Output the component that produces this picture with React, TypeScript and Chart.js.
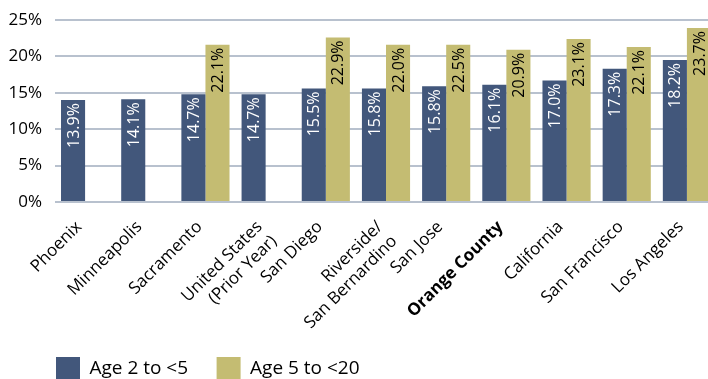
import React, { useEffect, useRef } from "react";
import { Chart, registerables } from "chart.js";

Chart.register(...registerables);

const categories: (string | string[])[] = [
  "Phoenix",
  "Minneapolis",
  "Sacramento",
  ["United States", "(Prior Year)"],
  "San Diego",
  ["Riverside/", "San Bernardino"],
  "San Jose",
  "Orange County",
  "California",
  "San Francisco",
  "Los Angeles",
];

const seriesNames = ["Age 2 to <5", "Age 5 to <20"];

const age2to5 = [14.0, 14.1, 14.8, 14.8, 15.6, 15.6, 15.9, 16.1, 16.7, 18.3, 19.5];
const age5to20 = [null, null, 21.6, null, 22.6, 21.6, 21.6, 20.9, 22.4, 21.3, 23.9];

const age2to5Labels = ["13.9%", "14.1%", "14.7%", "14.7%", "15.5%", "15.8%", "15.8%", "16.1%", "17.0%", "17.3%", "18.2%"];
const age5to20Labels = [null, null, "22.1%", null, "22.9%", "22.0%", "22.5%", "20.9%", "23.1%", "22.1%", "23.7%"];

const yMin = 0;
const yMax = 25;
const yStep = 5;

const BLUE = "#42577b";
const OLIVE = "#c4bc72";
const GRID = "#b8c1ce";
const FONT = "'Open Sans', 'Noto Sans', sans-serif";
const LEGEND_SHIFT = 27.5;

const barLabelPlugin = {
  id: "barLabels",
  afterDatasetsDraw(chart: any, _args: any, opts: any) {
    const ctx = chart.ctx;
    chart.data.datasets.forEach((_ds: any, di: number) => {
      const meta = chart.getDatasetMeta(di);
      const texts = opts.texts[di];
      meta.data.forEach((bar: any, i: number) => {
        const t = texts[i];
        if (!t) return;
        ctx.save();
        ctx.translate(bar.x, bar.y + 3);
        ctx.rotate(-Math.PI / 2);
        ctx.textAlign = "right";
        ctx.textBaseline = "middle";
        ctx.font = `16px ${FONT}`;
        ctx.fillStyle = opts.colors[di];
        ctx.fillText(t, 0, 1);
        ctx.restore();
      });
    });
  },
};

const legendShiftPlugin = {
  id: "legendShift",
  afterLayout(chart: any) {
    if (chart.legend) {
      chart.legend.left += LEGEND_SHIFT;
    }
  },
};

export default function App() {
  const ref = useRef<HTMLCanvasElement | null>(null);

  useEffect(() => {
    if (!ref.current) return;
    const chart = new Chart(ref.current, {
      type: "bar",
      data: {
        labels: categories as any,
        datasets: [
          {
            label: seriesNames[0],
            data: age2to5,
            backgroundColor: BLUE,
            borderWidth: 0,
            categoryPercentage: 0.8,
            barPercentage: 1.0,
          },
          {
            label: seriesNames[1],
            data: age5to20 as any,
            backgroundColor: OLIVE,
            borderWidth: 0,
            categoryPercentage: 0.8,
            barPercentage: 1.0,
          },
        ],
      },
      plugins: [barLabelPlugin, legendShiftPlugin],
      options: {
        responsive: false,
        animation: false,
        events: [],
        layout: { padding: { top: 20, left: 0, right: 3, bottom: 0 } },
        scales: {
          x: {
            grid: { display: false, drawTicks: false },
            border: { display: false },
            ticks: {
              autoSkip: false,
              minRotation: 45,
              maxRotation: 45,
              padding: 15,
              labelOffset: -6,
              color: "#000",
              font: (c: any) => ({
                family: FONT,
                size: 17,
                weight: c.index === 7 ? "bold" : "normal",
              }),
            },
            afterFit: (s: any) => {
              s.height = 126.5;
              s.paddingLeft = 0;
              s.paddingRight = 0;
            },
          },
          y: {
            min: yMin,
            max: yMax,
            grid: { color: GRID, lineWidth: 2, drawTicks: false },
            border: { display: false },
            ticks: {
              stepSize: yStep,
              padding: 13,
              color: "#000",
              font: { family: FONT, size: 17 },
              callback: (v: any) => `${v}%`,
            },
            afterFit: (s: any) => {
              s.width = 55;
              s.paddingTop = 0;
              s.paddingBottom = 0;
            },
          },
        },
        plugins: {
          legend: {
            position: "bottom",
            align: "start",
            labels: {
              boxWidth: 24,
              boxHeight: 24,
              padding: 28.5,
              color: "#000",
              font: { family: FONT, size: 19 },
            },
          },
          tooltip: { enabled: false },
          barLabels: {
            texts: [age2to5Labels, age5to20Labels],
            colors: ["#ffffff", "#000000"],
          },
        } as any,
      },
    });
    return () => chart.destroy();
  }, []);

  return (
    <div
      style={{
        position: "absolute",
        left: 0,
        top: 0,
        width: 708,
        height: 379,
        overflow: "hidden",
        background: "#fff",
      }}
    >
      <canvas ref={ref} width={720} height={391} style={{ display: "block" }} />
    </div>
  );
}
